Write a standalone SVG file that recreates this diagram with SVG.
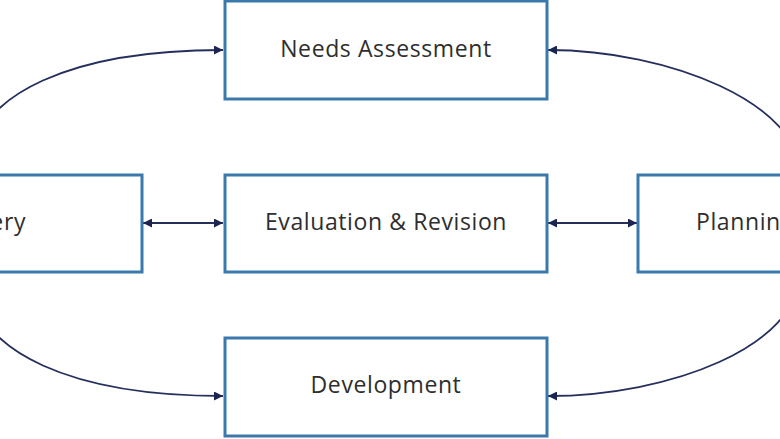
<svg xmlns="http://www.w3.org/2000/svg" width="780" height="439" viewBox="0 0 780 439">
<defs>
<style>
.box{fill:#ffffff;stroke:#3B78AC;stroke-width:3}
.lbl{font-family:"Open Sans","Noto Sans","DejaVu Sans",sans-serif;font-size:23px;letter-spacing:0.6px;fill:#2e2e2e;text-anchor:middle}
.con{fill:none;stroke:#262f5c;stroke-width:1.8}
</style>
<marker id="ah" viewBox="0 0 10 10" refX="10" refY="5" markerWidth="10" markerHeight="9" markerUnits="userSpaceOnUse" orient="auto-start-reverse">
<path d="M0,0 L10,5 L0,10 Z" fill="#1c2550"/>
</marker>
</defs>
<rect width="780" height="439" fill="#ffffff"/>
<g id="connectors">
<path class="con" d="M -30 174 C -30 90 80 50 223 50" marker-end="url(#ah)"/>
<path class="con" d="M -30 272 C -30 356 80 396 223 396" marker-end="url(#ah)"/>
<path class="con" d="M 800 174 C 800 104 670 50 548 50" marker-end="url(#ah)"/>
<path class="con" d="M 800 272 C 800 346 670 396 548 396" marker-end="url(#ah)"/>
<path class="con" d="M 143 223 L 223 223" marker-start="url(#ah)" marker-end="url(#ah)"/>
<path class="con" d="M 548 223 L 637 223" marker-start="url(#ah)" marker-end="url(#ah)"/>
</g>
<g id="needs">
<rect class="box" x="225" y="1" width="322" height="98"/>
<text class="lbl" x="386" y="57">Needs Assessment</text>
</g>
<g id="evaluation">
<rect class="box" x="225" y="175" width="322" height="97"/>
<text class="lbl" x="386" y="230">Evaluation &amp; Revision</text>
</g>
<g id="development">
<rect class="box" x="225" y="338" width="322" height="98"/>
<text class="lbl" x="386" y="393">Development</text>
</g>
<g id="delivery">
<rect class="box" x="-180" y="175" width="322" height="97"/>
<text class="lbl" x="26" y="230" style="text-anchor:end">Delivery</text>
</g>
<g id="planning">
<rect class="box" x="638" y="175" width="322" height="97"/>
<text class="lbl" x="696" y="230" style="text-anchor:start">Planning</text>
</g>
</svg>
